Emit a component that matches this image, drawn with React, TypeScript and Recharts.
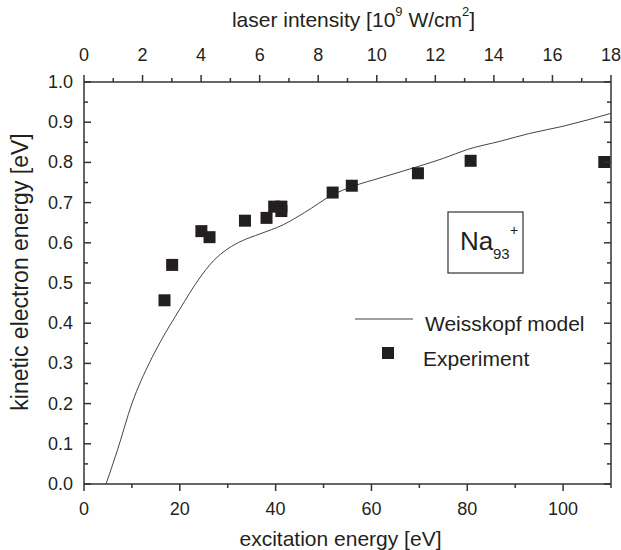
import React from "react";
import { ComposedChart, Line, Scatter, XAxis, YAxis, Legend } from "recharts";

// Weisskopf model curve (excitation energy [eV] -> kinetic electron energy [eV])
const modelEnergy = [4.6, 7, 10, 13.8, 16, 20, 24, 27, 30, 33, 36.7, 41.6, 46, 52, 56, 62, 69.5, 75, 80, 87, 93, 100, 110];
const modelKinetic = [0, 0.085, 0.2, 0.305, 0.355, 0.435, 0.51, 0.555, 0.585, 0.605, 0.622, 0.645, 0.675, 0.72, 0.74, 0.762, 0.789, 0.81, 0.832, 0.853, 0.872, 0.89, 0.922];

// measured points
const expEnergy = [16.8, 18.4, 24.5, 26.2, 33.6, 38.1, 39.7, 41.2, 41.2, 51.9, 55.9, 69.7, 80.7, 108.6];
const expKinetic = [0.457, 0.545, 0.629, 0.614, 0.655, 0.662, 0.69, 0.69, 0.679, 0.725, 0.742, 0.773, 0.804, 0.801];

const bottomTicks = [0, 10, 20, 30, 40, 50, 60, 70, 80, 90, 100, 110];
const topTicks = [0, 1, 2, 3, 4, 5, 6, 7, 8, 9, 10, 11, 12, 13, 14, 15, 16, 17, 18];
const yTicks = [0, 0.05, 0.1, 0.15, 0.2, 0.25, 0.3, 0.35, 0.4, 0.45, 0.5, 0.55, 0.6, 0.65, 0.7, 0.75, 0.8, 0.85, 0.9, 0.95, 1.0];

const modelData = modelEnergy.map((e, i) => ({ e, k: modelKinetic[i] }));
const expData = expEnergy.map((e, i) => ({ e, k: expKinetic[i] }));
// chart-level rows only feed the top (laser intensity) axis
const intensityRows = topTicks.map((t) => ({ intensity: t }));

const INK = "#231f20";
const AXIS = "#333";
const FONT = "'Liberation Sans', Arial, Helvetica, sans-serif";

const isMajorY = (v: number) => Math.round(v * 100) % 10 === 0;

const BottomTick = (props: any) => {
  const { x, y, payload } = props;
  const major = payload.value % 20 === 0 && payload.value <= 100;
  return (
    <g>
      <line x1={x} y1={y} x2={x} y2={y + (major ? 7 : 4)} stroke={AXIS} strokeWidth={1.5} />
      {major && (
        <text x={x} y={y + 25} textAnchor="middle" dominantBaseline="central" fontSize={18} fill={INK} fontFamily={FONT}>
          {payload.value}
        </text>
      )}
    </g>
  );
};

const TopTick = (props: any) => {
  const { x, y, payload } = props;
  const major = payload.value % 2 === 0;
  return (
    <g>
      <line x1={x} y1={y} x2={x} y2={y - (major ? 7 : 4)} stroke={AXIS} strokeWidth={1.5} />
      {major && (
        <text x={x} y={y - 27} textAnchor="middle" dominantBaseline="central" fontSize={18} fill={INK} fontFamily={FONT}>
          {payload.value}
        </text>
      )}
    </g>
  );
};

const LeftTick = (props: any) => {
  const { x, y, payload } = props;
  const major = isMajorY(payload.value);
  return (
    <g>
      <line x1={x} y1={y} x2={x + (major ? 7 : 4)} y2={y} stroke={AXIS} strokeWidth={1.5} />
      {major && (
        <text x={x - 11} y={y} textAnchor="end" dominantBaseline="central" fontSize={18} fill={INK} fontFamily={FONT}>
          {payload.value.toFixed(1)}
        </text>
      )}
    </g>
  );
};

const RightTick = (props: any) => {
  const { x, y, payload } = props;
  const major = isMajorY(payload.value);
  return <line x1={x} y1={y} x2={x - (major ? 7 : 4)} y2={y} stroke={AXIS} strokeWidth={1.5} />;
};

const Square = (props: any) => {
  const { cx, cy } = props;
  return <rect x={cx - 6} y={cy - 6} width={12} height={12} fill={INK} />;
};

const bottomTitle = (props: any) => {
  const { viewBox } = props;
  return (
    <text x={viewBox.x + viewBox.width / 2 - 7} y={viewBox.y + 54} textAnchor="middle" dominantBaseline="central" fontSize={21} fill={INK} fontFamily={FONT}>
      excitation energy [eV]
    </text>
  );
};

const topTitle = (props: any) => {
  const { viewBox } = props;
  return (
    <text x={viewBox.x + viewBox.width / 2 + 6} y={19} textAnchor="middle" dominantBaseline="central" fontSize={21} fill={INK} fontFamily={FONT}>
      laser intensity [10
      <tspan fontSize={13} dy={-8}>9</tspan>
      <tspan dy={8}> W/cm</tspan>
      <tspan fontSize={13} dy={-8}>2</tspan>
      <tspan dy={8}>]</tspan>
    </text>
  );
};

const yTitle = (props: any) => {
  const { viewBox } = props;
  const cx = viewBox.x + 20;
  const cy = viewBox.y + viewBox.height / 2 - 11;
  return (
    <text x={cx} y={cy} transform={`rotate(-90 ${cx} ${cy})`} textAnchor="middle" dominantBaseline="central" fontSize={23} fill={INK} fontFamily={FONT}>
      kinetic electron energy [eV]
    </text>
  );
};

// legend + Na93+ label box
const Overlay = () => (
  <svg width={621} height={550} style={{ display: "block" }}>
    <rect x={448} y={212} width={75} height={61} fill="none" stroke={AXIS} strokeWidth={1.2} />
    <text x={460} y={250} fontSize={26} fill={INK} fontFamily={FONT}>Na</text>
    <text x={493} y={259} fontSize={15} fill={INK} fontFamily={FONT}>93</text>
    <text x={510} y={235} fontSize={14} fill={INK} fontFamily={FONT}>+</text>
    <line x1={355} y1={319} x2={413} y2={319} stroke="#444" strokeWidth={1} />
    <text x={425} y={323} dominantBaseline="central" fontSize={21} fill={INK} fontFamily={FONT}>Weisskopf model</text>
    <rect x={382} y={347} width={12} height={12} fill={INK} />
    <text x={423} y={358} dominantBaseline="central" fontSize={21} fill={INK} fontFamily={FONT}>Experiment</text>
  </svg>
);

export default function App() {
  return (
    <div style={{ position: "absolute", left: 0, top: 0, background: "#fff" }}>
      <ComposedChart width={621} height={550} data={intensityRows} margin={{ top: 0, right: 0, bottom: 0, left: 0 }}>
        <XAxis
          xAxisId="bottom"
          dataKey="e"
          type="number"
          domain={[0, 110]}
          allowDataOverflow
          ticks={bottomTicks}
          interval={0}
          height={66}
          tickSize={0}
          tickMargin={0}
          tick={BottomTick}
          tickLine={false}
          axisLine={{ stroke: AXIS, strokeWidth: 1.5 }}
          label={{ content: bottomTitle }}
        />
        <XAxis
          xAxisId="top"
          orientation="top"
          dataKey="intensity"
          type="number"
          domain={[0, 18]}
          allowDataOverflow
          ticks={topTicks}
          interval={0}
          height={82}
          tickSize={0}
          tickMargin={0}
          tick={TopTick}
          tickLine={false}
          axisLine={{ stroke: AXIS, strokeWidth: 1.5 }}
          label={{ content: topTitle }}
        />
        <YAxis
          yAxisId="left"
          dataKey="k"
          type="number"
          domain={[0, 1]}
          allowDataOverflow
          ticks={yTicks}
          interval={0}
          width={84}
          tickSize={0}
          tickMargin={0}
          tick={LeftTick}
          tickLine={false}
          axisLine={{ stroke: AXIS, strokeWidth: 1.5 }}
          label={{ content: yTitle }}
        />
        <YAxis
          yAxisId="right"
          orientation="right"
          type="number"
          domain={[0, 1]}
          allowDataOverflow
          ticks={yTicks}
          interval={0}
          width={10}
          tickSize={0}
          tickMargin={0}
          tick={RightTick}
          tickLine={false}
          axisLine={{ stroke: AXIS, strokeWidth: 1.5 }}
        />
        <Line
          data={modelData}
          dataKey="k"
          xAxisId="bottom"
          yAxisId="left"
          type="monotone"
          stroke="#444"
          strokeWidth={1}
          dot={false}
          activeDot={false}
          isAnimationActive={false}
          name="Weisskopf model"
        />
        <Scatter
          data={expData}
          dataKey="k"
          xAxisId="bottom"
          yAxisId="left"
          shape={Square}
          fill={INK}
          isAnimationActive={false}
          name="Experiment"
        />
        <Legend
          layout="horizontal"
          verticalAlign="middle"
          align="center"
          wrapperStyle={{ left: 0, top: 0, width: 621, height: 550, pointerEvents: "none" }}
          content={() => <Overlay />}
        />
      </ComposedChart>
    </div>
  );
}
